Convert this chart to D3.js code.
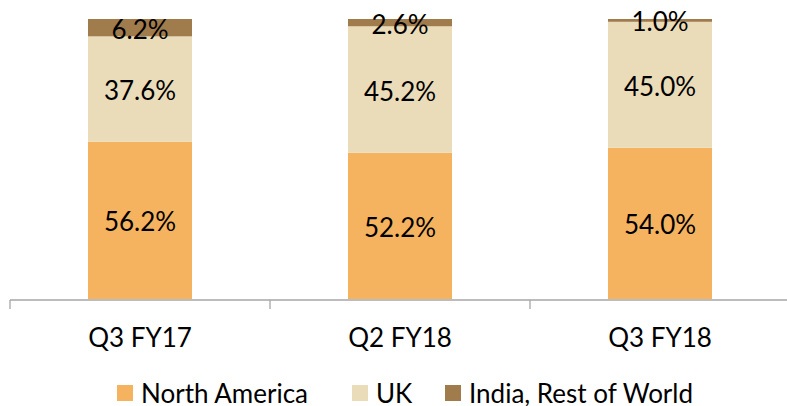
<!DOCTYPE html>
<html>
<head>
<meta charset="utf-8">
<script src="https://cdn.jsdelivr.net/npm/d3@7"></script>
<style>
  body { margin: 0; background: #fff; }
  text { font-family: Lato, "Open Sans", sans-serif; fill: #000; }
</style>
</head>
<body>
<svg width="787" height="406"></svg>
<script>
  const quarters = ['Q3 FY17', 'Q2 FY18', 'Q3 FY18'];
  const northAmerica = [56.2, 52.2, 54.0];
  const uk = [37.6, 45.2, 45.0];
  const indiaRow = [6.2, 2.6, 1.0];
  const seriesNames = ['North America', 'UK', 'India, Rest of World'];
  const colors = ['#F6B35F', '#EBDCB9', '#A07B4C'];

  const svg = d3.select('svg');
  const margin = { top: 19, left: 10, bottom: 107 };
  const innerWidth = 780;
  const innerHeight = 406 - margin.top - margin.bottom;

  const rows = quarters.map((q, i) => ({
    q: q, 'North America': northAmerica[i], 'UK': uk[i], 'India, Rest of World': indiaRow[i]
  }));
  const stacked = d3.stack().keys(seriesNames)(rows);

  const xScale = d3.scaleBand().domain(quarters).range([0, innerWidth]);
  const yScale = d3.scaleLinear().domain([0, 100]).range([innerHeight, 0]);
  const barW = 104;

  const g = svg.append('g').attr('transform', `translate(${margin.left},${margin.top})`);

  stacked.forEach((s, k) => {
    const layer = g.append('g');
    layer.selectAll('rect').data(s).enter().append('rect')
      .attr('x', d => xScale(d.data.q) + (xScale.bandwidth() - barW) / 2)
      .attr('y', d => yScale(d[1]))
      .attr('width', barW)
      .attr('height', d => yScale(d[0]) - yScale(d[1]))
      .attr('fill', colors[k]);
  });

  stacked.forEach(s => {
    g.append('g').selectAll('text').data(s).enter().append('text')
      .attr('x', d => xScale(d.data.q) + xScale.bandwidth() / 2)
      .attr('y', d => (yScale(d[0]) + yScale(d[1])) / 2 + 1)
      .attr('text-anchor', 'middle')
      .attr('dominant-baseline', 'central')
      .style('font-size', '26px')
      .text(d => (d[1] - d[0]).toFixed(1) + '%');
  });

  // x axis
  const axisG = g.append('g').attr('transform', `translate(0,${innerHeight + 1})`);
  axisG.append('line').attr('x1', 0).attr('x2', innerWidth).attr('stroke', '#A6A6A6').attr('stroke-width', 1.3);
  const tickPos = quarters.map(q => xScale(q)).concat([innerWidth]);
  axisG.selectAll('.tk').data(tickPos).enter().append('line')
    .attr('x1', d => d).attr('x2', d => d).attr('y1', 0).attr('y2', 9)
    .attr('stroke', '#A6A6A6').attr('stroke-width', 1.3);
  axisG.selectAll('.lbl').data(quarters).enter().append('text')
    .attr('x', d => xScale(d) + xScale.bandwidth() / 2)
    .attr('y', 37)
    .attr('text-anchor', 'middle')
    .attr('dominant-baseline', 'central')
    .style('font-size', '26px')
    .text(d => d);

  // legend
  const legendX = [117, 352, 445];
  const legend = svg.append('g').attr('transform', 'translate(0,393)');
  seriesNames.forEach((n, k) => {
    legend.append('rect').attr('x', legendX[k]).attr('y', -8).attr('width', 16).attr('height', 16).attr('fill', colors[k]);
    legend.append('text').attr('x', legendX[k] + 24).attr('y', 0)
      .attr('dominant-baseline', 'central')
      .style('font-size', '26px')
      .text(n);
  });
</script>
</body>
</html>
